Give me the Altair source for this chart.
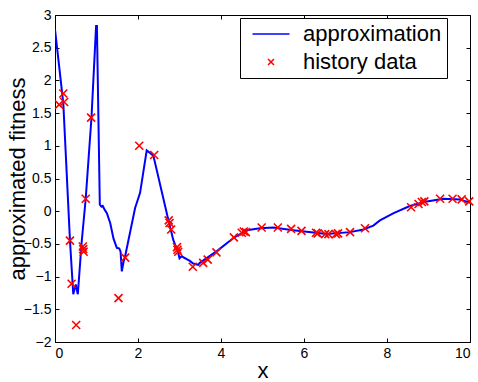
import altair as alt
import pandas as pd

# ---- data ----
approx_x = [0.0, 0.2, 0.36, 0.44, 0.50, 0.55, 0.64, 0.74, 0.88, 0.99, 1.01, 1.08, 1.12, 1.15,
            1.20, 1.25, 1.33, 1.41, 1.49, 1.55, 1.58, 1.61, 1.65, 1.69, 1.93, 2.05, 2.21, 2.29,
            2.37, 2.73, 2.85, 2.97, 3.00, 3.05, 3.25, 3.33, 3.45, 3.49, 3.90, 4.30, 4.62, 4.94,
            5.26, 5.74, 6.55, 7.11, 7.43, 7.67, 7.83, 8.16, 8.55, 8.96, 9.36, 9.76, 10.0]
approx_y = [2.78, 1.65, -0.44, -1.27, -1.12, -1.27, -0.49, 0.19, 1.44, 2.83, 2.83, 0.10, 0.07, 0.08,
            0.02, -0.03, -0.18, -0.42, -0.56, -0.57, -0.62, -0.92, -0.78, -0.69, 0.05, 0.28, 0.93, 0.89,
            0.85, -0.13, -0.44, -0.64, -0.72, -0.69, -0.76, -0.80, -0.82, -0.79, -0.61, -0.41, -0.29, -0.26,
            -0.25, -0.29, -0.35, -0.32, -0.28, -0.22, -0.14, -0.03, 0.08, 0.15, 0.19, 0.18, 0.13]

hist_x = [0.10, 0.20, 0.22, 0.36, 0.40, 0.51, 0.67, 0.68, 0.69, 0.74, 0.87, 1.53, 1.69, 2.03,
          2.39, 2.74, 2.76, 2.80, 2.94, 2.95, 2.97, 3.32, 3.57, 3.68, 3.89, 4.31, 4.50, 4.55,
          4.60, 4.98, 5.37, 5.69, 5.94, 6.29, 6.33, 6.51, 6.59, 6.77, 6.82, 7.11, 7.47, 8.58,
          8.76, 8.84, 8.90, 9.28, 9.58, 9.80, 9.98]
hist_y = [1.63, 1.80, 1.67, -0.45, -1.11, -1.74, -0.54, -0.58, -0.62, 0.19, 1.43, -1.33, -0.71, 1.00,
          0.86, -0.14, -0.18, -0.28, -0.55, -0.59, -0.62, -0.85, -0.79, -0.74, -0.63, -0.40, -0.33, -0.31,
          -0.32, -0.25, -0.25, -0.27, -0.30, -0.33, -0.34, -0.35, -0.35, -0.35, -0.34, -0.32, -0.26, 0.06,
          0.11, 0.14, 0.15, 0.19, 0.19, 0.18, 0.15]

series_names = ["approximation", "history data"]
x_ticks = [0, 2, 4, 6, 8, 10]
y_ticks = [-2, -1.5, -1, -0.5, 0, 0.5, 1, 1.5, 2, 2.5, 3]

approx = pd.DataFrame({"x": approx_x, "y": approx_y, "series": series_names[0]})
hist = pd.DataFrame({"x": hist_x, "y": hist_y, "series": series_names[1]})

FONT = "Liberation Sans"
LINE_PATH = "M-0.74,0L0.74,0"
CROSS_PATH = "M-0.12,-0.12L0.12,0.12M0.12,-0.12L-0.12,0.12"

xs = alt.Scale(domain=[0, 10], nice=False, zero=False)
ys = alt.Scale(domain=[-2, 3], nice=False, zero=False)

legend = alt.Legend(
    orient="none", legendX=185, legendY=3, title=None,
    labelFont=FONT, labelFontSize=22, labelColor="black",
    symbolSize=2500, symbolStrokeWidth=1.5, clipHeight=22,
    labelOffset=6, rowPadding=6, padding=5,
    strokeColor="black", fillColor="white", cornerRadius=0,
)
color = alt.Color("series:N", scale=alt.Scale(domain=series_names, range=["#0000ff", "#ff0000"]),
                  legend=legend)
shape = alt.Shape("series:N", scale=alt.Scale(domain=series_names, range=[LINE_PATH, CROSS_PATH]),
                  legend=legend)

x_label_axis = alt.Axis(values=x_ticks, format="d", ticks=False, tickSize=0, domain=False, grid=False,
                        title="x", titleFont=FONT, titleFontSize=22, titleFontWeight="normal",
                        titleColor="black", titleY=35, titleBaseline="alphabetic",
                        labelFont=FONT, labelFontSize=14, labelColor="black", labelPadding=4)
y_label_axis = alt.Axis(values=y_ticks, format=".1~f", ticks=False, tickSize=0, domain=False, grid=False,
                        title="approximated fitness", titleFont=FONT, titleFontSize=22,
                        titleFontWeight="normal", titleColor="black", titleX=-31,
                        titleBaseline="alphabetic",
                        labelFont=FONT, labelFontSize=14, labelColor="black", labelPadding=4)

def tick_axis(vals, orient):
    return alt.Axis(values=vals, orient=orient, labels=False, domain=False, grid=False, ticks=True,
                    tickSize=4, offset=-4, tickColor="black", tickWidth=1, title=None)

line = alt.Chart(approx).mark_line(strokeWidth=2, clip=True).encode(
    x=alt.X("x:Q", scale=xs, axis=x_label_axis),
    y=alt.Y("y:Q", scale=ys, axis=y_label_axis),
    color=color,
)

points = alt.Chart(hist).mark_point(filled=False, size=4444, strokeWidth=1.6, opacity=1).encode(
    x=alt.X("x:Q", scale=xs, axis=tick_axis(x_ticks, "bottom")),
    y=alt.Y("y:Q", scale=ys, axis=tick_axis(y_ticks, "left")),
    color=color,
    shape=shape,
)

frame_ticks = alt.Chart(hist).mark_point(opacity=0).encode(
    x=alt.X("x:Q", scale=xs, axis=tick_axis(x_ticks, "top")),
    y=alt.Y("y:Q", scale=ys, axis=tick_axis(y_ticks, "right")),
)

chart = alt.layer(line, points, frame_ticks).resolve_axis(
    x="independent", y="independent"
).properties(
    width=415, height=327,
    autosize=alt.AutoSizeParams(type="none"),
    padding={"left": 55, "top": 15, "right": 8, "bottom": 40},
    background="white",
).configure_view(stroke="black", strokeWidth=1)

chart.save("out.html", embed_options={"renderer": "svg", "actions": False})
